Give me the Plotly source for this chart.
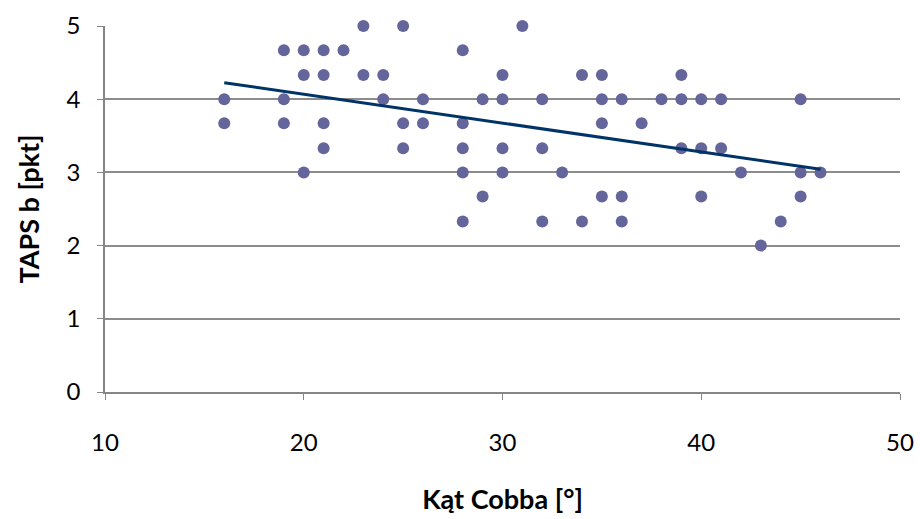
import numpy as np
import plotly.graph_objects as go

cobb = [23, 25, 31,
        19, 20, 21, 22, 28,
        20, 21, 23, 24, 30, 34, 35, 39,
        16, 19, 24, 26, 29, 30, 32, 35, 36, 38, 39, 40, 41, 45,
        16, 19, 21, 25, 26, 28, 35, 37,
        21, 25, 28, 30, 32, 39, 40, 41,
        20, 28, 30, 33, 42, 45, 46,
        29, 35, 36, 40, 45,
        28, 32, 34, 36, 44,
        43]
taps = [5, 5, 5,
        4.67, 4.67, 4.67, 4.67, 4.67,
        4.33, 4.33, 4.33, 4.33, 4.33, 4.33, 4.33, 4.33,
        4, 4, 4, 4, 4, 4, 4, 4, 4, 4, 4, 4, 4, 4,
        3.67, 3.67, 3.67, 3.67, 3.67, 3.67, 3.67, 3.67,
        3.33, 3.33, 3.33, 3.33, 3.33, 3.33, 3.33, 3.33,
        3, 3, 3, 3, 3, 3, 3,
        2.67, 2.67, 2.67, 2.67, 2.67,
        2.33, 2.33, 2.33, 2.33, 2.33,
        2]

x_ticks = [10, 20, 30, 40, 50]
y_ticks = [0, 1, 2, 3, 4, 5]

slope, intercept = np.polyfit(cobb, taps, 1)
tx = [min(cobb), max(cobb)]
ty = [slope * v + intercept for v in tx]

fig = go.Figure()
fig.add_trace(go.Scatter(x=cobb, y=taps, mode="markers", cliponaxis=False,
                         marker=dict(color="#64659a", size=12),
                         showlegend=False, hoverinfo="x+y"))
fig.add_trace(go.Scatter(x=tx, y=ty, mode="lines",
                         line=dict(color="#003366", width=3),
                         showlegend=False))

fnt = "Lato, 'Open Sans', sans-serif"
fig.update_layout(
    width=920, height=519,
    margin=dict(l=105, r=20, t=26, b=127),
    paper_bgcolor="white", plot_bgcolor="white",
    font=dict(family=fnt, size=24, color="black"),
    xaxis=dict(range=[10, 50], tickvals=x_ticks, showgrid=False, automargin=False,
               showline=True, linecolor="#868686", linewidth=1.5,
               ticks="outside", ticklen=6, tickcolor="#868686",
               ticklabelstandoff=22, zeroline=False,
               title=dict(text="<b>Kąt Cobba [°]</b>", font=dict(size=27), standoff=36)),
    yaxis=dict(range=[0, 5], tickvals=y_ticks, showgrid=True, automargin=False,
               gridcolor="#8c8c8c", gridwidth=1.5,
               showline=True, linecolor="#868686", linewidth=1.5,
               ticks="outside", ticklen=6, tickcolor="#868686",
               ticklabelstandoff=12, zeroline=False,
               title=dict(text="<b>TAPS b [pkt]</b>", font=dict(size=27), standoff=19)),
)
fig.write_html("out.html", config={"displayModeBar": False},
               post_script="document.body.style.margin='0';document.body.style.overflow='hidden';")
